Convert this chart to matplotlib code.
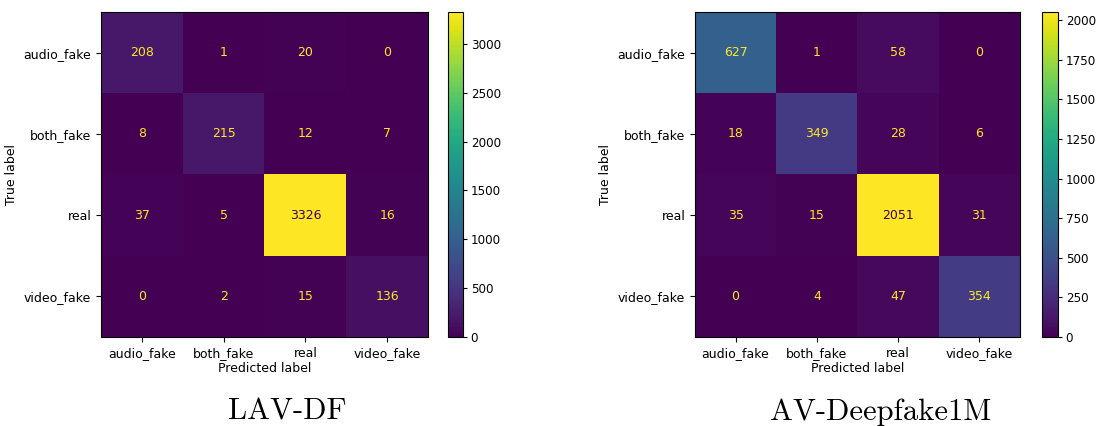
import numpy as np
import matplotlib.pyplot as plt

# class names shared by both matrices
labels = ['audio_fake', 'both_fake', 'real', 'video_fake']

# confusion matrices (rows = true, cols = predicted)
lavdf_cm = np.array([
    [208, 1, 20, 0],
    [8, 215, 12, 7],
    [37, 5, 3326, 16],
    [0, 2, 15, 136],
])
avdf1m_cm = np.array([
    [627, 1, 58, 0],
    [18, 349, 28, 6],
    [35, 15, 2051, 31],
    [0, 4, 47, 354],
])

titles = ['LAV-DF', 'AV-Deepfake1M']

plt.rcParams['font.size'] = 9

fig = plt.figure(figsize=(10.97, 4.26), dpi=100)
W, H = 1097, 426

# pixel boxes: (left, bottom, width, height) in figure pixels
ax_boxes = [(101, 89, 327, 325), (695, 89, 325, 325)]
cb_boxes = [(448, 89, 15, 325), (1042, 89, 16, 325)]
cmap = plt.get_cmap('viridis')


def draw_cm(cm, ax, cax):
    im = ax.imshow(cm, cmap=cmap, interpolation='nearest', aspect='auto')
    thresh = (cm.max() + cm.min()) / 2.0
    for i in range(cm.shape[0]):
        for j in range(cm.shape[1]):
            color = cmap(0) if cm[i, j] >= thresh else cmap(256)
            ax.text(j, i, str(cm[i, j]), ha='center', va='center', color=color, fontsize=9)
    ax.set_xticks(range(len(labels)))
    ax.set_xticklabels(labels)
    ax.set_yticks(range(len(labels)))
    ax.set_yticklabels(labels)
    ax.set_xlabel('Predicted label', labelpad=2)
    ax.set_ylabel('True label')
    cb = fig.colorbar(im, cax=cax)
    cb.ax.tick_params(labelsize=8.6, pad=2.5, length=3)
    return im


for cm, box, cbox, title in zip([lavdf_cm, avdf1m_cm], ax_boxes, cb_boxes, titles):
    ax = fig.add_axes([box[0] / W, box[1] / H, box[2] / W, box[3] / H])
    cax = fig.add_axes([cbox[0] / W, cbox[1] / H, cbox[2] / W, cbox[3] / H])
    draw_cm(cm, ax, cax)
    # caption under each panel
    cx = (box[0] + box[2] / 2 + 23) / W
    fig.text(cx, 14 / H, title, ha='center', va='center', fontsize=22, family='cmr10')

fig.savefig('out.png', dpi=100)
